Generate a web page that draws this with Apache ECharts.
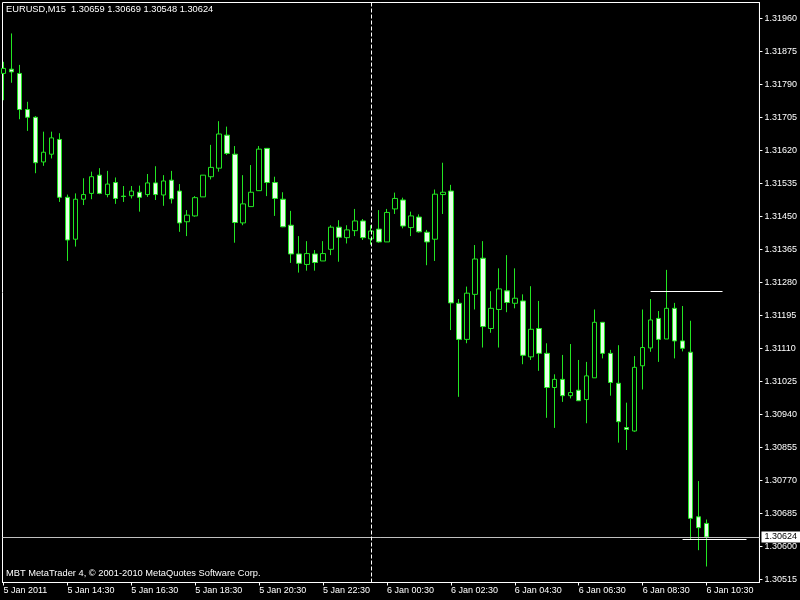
<!DOCTYPE html>
<html>
<head>
<meta charset="utf-8">
<script src="https://cdn.jsdelivr.net/npm/echarts@6/dist/echarts.min.js"></script>
<style>
html,body{margin:0;padding:0;background:#000;}
#chart{width:800px;height:600px;}
</style>
</head>
<body>
<div id="chart"></div>
<script>
// ---- Data (EURUSD M15, 5 Jan 2011 12:30 .. 6 Jan 2011 10:30) ----
const opens = [1.31818,1.31829,1.31818,1.31725,1.31705,1.31590,1.31610,1.31648,1.31499,1.31391,
1.31494,1.31509,1.31556,1.31506,1.31537,1.31502,1.31503,1.31512,1.31506,1.31536,
1.31505,1.31543,1.31515,1.31436,1.31451,1.31500,1.31552,1.31574,1.31659,1.31610,
1.31433,1.31475,1.31516,1.31625,1.31537,1.31494,1.31427,1.31353,1.31326,1.31353,
1.31335,1.31365,1.31422,1.31395,1.31413,1.31438,1.31392,1.31417,1.31384,1.31469,
1.31492,1.31421,1.31448,1.31409,1.31391,1.31506,1.31515,1.31226,1.31133,1.31249,
1.31342,1.31161,1.31210,1.31258,1.31226,1.31232,1.31088,1.31161,1.31097,1.31009,
1.31030,1.30988,1.31002,1.30978,1.31034,1.31177,1.31097,1.31020,1.30906,1.30897,
1.31065,1.31111,1.31187,1.31134,1.31213,1.31129,1.31100,1.30676,1.30659];
const highs = [1.31848,1.31921,1.31840,1.31745,1.31708,1.31668,1.31668,1.31664,1.31506,1.31509,
1.31548,1.31565,1.31574,1.31567,1.31550,1.31528,1.31528,1.31529,1.31559,1.31579,
1.31556,1.31567,1.31533,1.31466,1.31502,1.31556,1.31634,1.31695,1.31681,1.31631,
1.31556,1.31582,1.31631,1.31625,1.31552,1.31512,1.31464,1.31399,1.31386,1.31363,
1.31386,1.31427,1.31440,1.31427,1.31469,1.31443,1.31427,1.31466,1.31469,1.31511,
1.31498,1.31462,1.31455,1.31415,1.31519,1.31588,1.31531,1.31237,1.31269,1.31376,
1.31386,1.31257,1.31316,1.31350,1.31316,1.31249,1.31270,1.31232,1.31123,1.31043,
1.31093,1.31121,1.31080,1.31075,1.31210,1.31177,1.31106,1.31118,1.30970,1.31090,
1.31210,1.31237,1.31206,1.31312,1.31227,1.31219,1.31181,1.30768,1.30669];
const lows = [1.31749,1.31794,1.31700,1.31670,1.31561,1.31580,1.31599,1.31487,1.31335,1.31372,
1.31479,1.31494,1.31507,1.31499,1.31482,1.31487,1.31496,1.31462,1.31500,1.31492,
1.31477,1.31483,1.31410,1.31399,1.31449,1.31500,1.31545,1.31565,1.31608,1.31382,
1.31427,1.31475,1.31516,1.31502,1.31451,1.31422,1.31330,1.31305,1.31310,1.31310,
1.31335,1.31350,1.31333,1.31380,1.31399,1.31389,1.31377,1.31382,1.31384,1.31456,
1.31419,1.31399,1.31408,1.31324,1.31335,1.31456,1.31157,1.30985,1.31123,1.31210,
1.31112,1.31150,1.31112,1.31203,1.31213,1.31069,1.31080,1.31052,1.30931,1.30905,
1.30972,1.30981,1.30975,1.30917,1.31034,1.31084,1.30988,1.30867,1.30848,1.30895,
1.31004,1.31101,1.31075,1.31134,1.31084,1.31102,1.30618,1.30590,1.30548];
const closes = [1.31831,1.31822,1.31725,1.31705,1.31588,1.31615,1.31652,1.31499,1.31389,1.31494,
1.31506,1.31552,1.31509,1.31533,1.31496,1.31501,1.31515,1.31499,1.31536,1.31506,
1.31541,1.31495,1.31433,1.31453,1.31498,1.31556,1.31576,1.31662,1.31612,1.31434,
1.31482,1.31512,1.31623,1.31537,1.31496,1.31423,1.31353,1.31329,1.31354,1.31331,
1.31354,1.31422,1.31396,1.31415,1.31438,1.31395,1.31412,1.31384,1.31460,1.31496,
1.31425,1.31451,1.31410,1.31384,1.31507,1.31512,1.31227,1.31133,1.31252,1.31340,
1.31166,1.31213,1.31263,1.31228,1.31239,1.31092,1.31159,1.31097,1.31009,1.31030,
1.30988,1.30996,1.30975,1.31039,1.31177,1.31097,1.31022,1.30921,1.30901,1.31061,
1.31112,1.31183,1.31133,1.31213,1.31129,1.31110,1.30672,1.30648,1.30624];

// x-axis tick labels (every 8 bars = 2 hours)
const timeTickBars = [0, 8, 16, 24, 32, 40, 48, 56, 64, 72, 80, 88];
const timeTickLabels = ['5 Jan 2011','5 Jan 14:30','5 Jan 16:30','5 Jan 18:30','5 Jan 20:30','5 Jan 22:30',
  '6 Jan 00:30','6 Jan 02:30','6 Jan 04:30','6 Jan 06:30','6 Jan 08:30','6 Jan 10:30'];
// y-axis tick labels
const priceTicks = [1.30515,1.30600,1.30685,1.30770,1.30855,1.30940,1.31025,1.31110,1.31195,
  1.31280,1.31365,1.31450,1.31535,1.31620,1.31705,1.31790,1.31875,1.31960];

const symbolTitle = 'EURUSD,M15  1.30659 1.30669 1.30548 1.30624';
const footerText = 'MBT MetaTrader 4, \u00A9 2001-2010 MetaQuotes Software Corp.';
const bidPrice = 1.30624;
const daySeparatorBar = 46;
const hLine1 = {price: 1.31257, fromBar: 81, toBar: 90};
const hLine2 = {price: 1.30619, fromBar: 85, toBar: 93};

// ---- Build ----
const X_MIN = -0.125, X_MAX = 94.625;
const candleData = opens.map((o, i) => [i, o, closes[i], lows[i], highs[i]]);
const FONT = 'Liberation Sans';
const GREEN = '#22e622';

const chart = echarts.init(document.getElementById('chart'), null, {renderer: 'canvas'});
chart.setOption({
  backgroundColor: '#000000',
  animation: false,
  title: [
    {text: symbolTitle, left: 6, top: 5, padding: 0,
     textStyle: {color: '#ffffff', fontSize: 9.3, fontWeight: 'normal', fontFamily: FONT}},
    {text: footerText, left: 6, top: 569, padding: 0,
     textStyle: {color: '#ffffff', fontSize: 9.3, fontWeight: 'normal', fontFamily: FONT}}
  ],
  grid: {left: 2.5, top: 2.5, right: 39.5, bottom: 17.5, show: true,
         borderColor: '#ffffff', borderWidth: 1, backgroundColor: 'transparent'},
  xAxis: {
    type: 'value', min: X_MIN, max: X_MAX,
    axisLine: {show: true, lineStyle: {color: '#ffffff', width: 1}},
    axisTick: {show: true, inside: false, length: 3, customValues: timeTickBars,
               lineStyle: {color: '#ffffff'}},
    axisLabel: {show: true, customValues: timeTickBars, color: '#ffffff', fontSize: 9,
                fontFamily: FONT, align: 'left', margin: 4,
                formatter: v => timeTickLabels[timeTickBars.indexOf(Math.round(v))] || ''},
    splitLine: {show: false}
  },
  yAxis: {
    type: 'value', position: 'right', min: 1.305068, max: 1.320007, scale: true,
    axisLine: {show: true, onZero: false, lineStyle: {color: '#ffffff', width: 1}},
    axisTick: {show: true, inside: false, length: 3, customValues: priceTicks,
               lineStyle: {color: '#ffffff'}},
    axisLabel: {show: true, customValues: priceTicks, color: '#ffffff', fontSize: 9,
                fontFamily: FONT, margin: 5, formatter: v => v.toFixed(5)},
    splitLine: {show: false}
  },
  series: [{
    type: 'candlestick',
    data: candleData,
    encode: {x: 0, y: [1, 2, 3, 4]},
    barWidth: 5,
    clip: true,
    itemStyle: {
      color: '#000000', color0: '#e6ffe6',
      borderColor: GREEN, borderColor0: GREEN, borderColorDoji: GREEN,
      borderWidth: 1
    },
    markLine: {
      silent: true,
      symbol: ['none', 'none'],
      animation: false,
      data: [
        [{coord: [X_MIN, bidPrice], lineStyle: {color: '#c0c0c0', width: 1, type: 'solid'},
          label: {show: true, position: 'end', formatter: bidPrice.toFixed(5), color: '#000000',
                  backgroundColor: '#ffffff', padding: [1, 6, 1, 3], fontSize: 9, fontFamily: FONT,
                  distance: 2}},
         {coord: [X_MAX, bidPrice]}],
        {xAxis: daySeparatorBar, lineStyle: {color: '#ffffff', width: 1, type: [4, 2]},
         label: {show: false}},
        [{coord: [hLine1.fromBar, hLine1.price], lineStyle: {color: '#ffffff', width: 1, type: 'solid'}, label: {show: false}},
         {coord: [hLine1.toBar, hLine1.price]}],
        [{coord: [hLine2.fromBar, hLine2.price], lineStyle: {color: '#ffffff', width: 1, type: 'solid'}, label: {show: false}},
         {coord: [hLine2.toBar, hLine2.price]}]
      ]
    }
  }]
});
</script>
</body>
</html>
